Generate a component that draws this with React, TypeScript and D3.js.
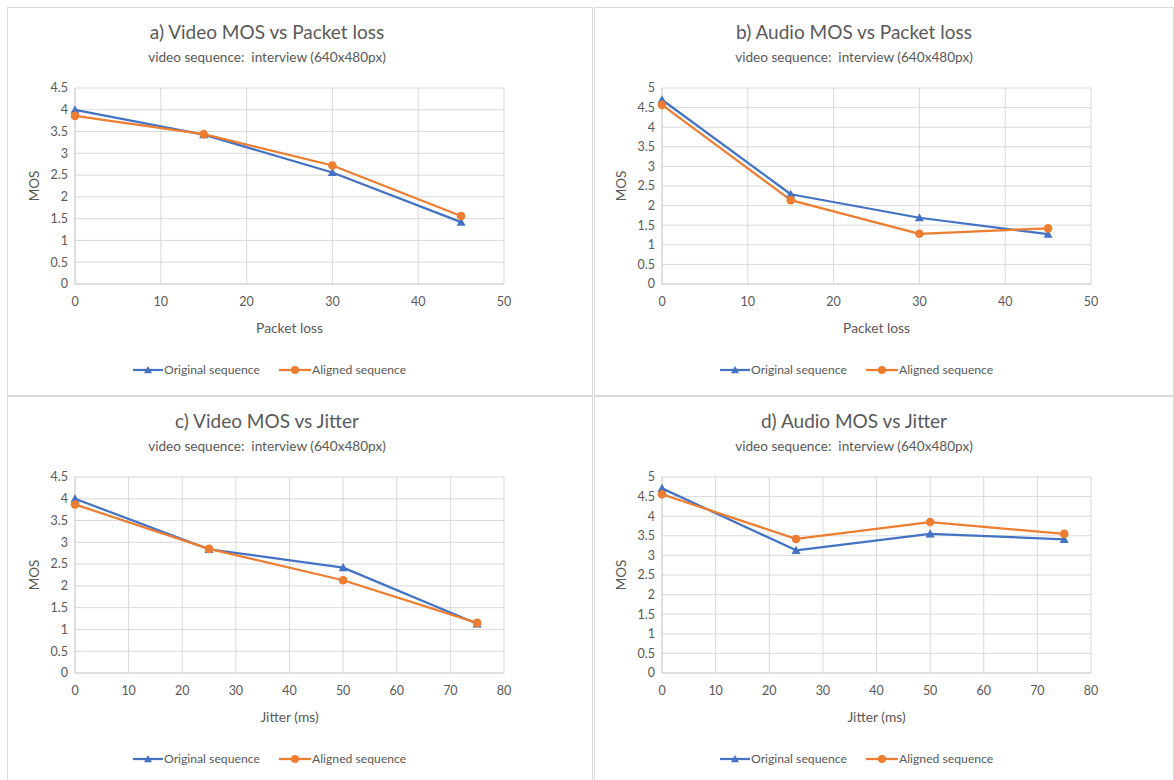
import * as React from 'react';
import * as d3 from 'd3';

// x values
const packetLoss = [0, 15, 30, 45];
const jitter = [0, 25, 50, 75];

// a) video MOS vs packet loss
const videoPlOriginal = [4.0, 3.43, 2.56, 1.42];
const videoPlAligned = [3.86, 3.44, 2.72, 1.56];
// b) audio MOS vs packet loss
const audioPlOriginal = [4.7, 2.29, 1.69, 1.27];
const audioPlAligned = [4.57, 2.14, 1.28, 1.42];
// c) video MOS vs jitter
const videoJOriginal = [4.0, 2.84, 2.42, 1.13];
const videoJAligned = [3.87, 2.85, 2.13, 1.15];
// d) audio MOS vs jitter
const audioJOriginal = [4.71, 3.13, 3.55, 3.41];
const audioJAligned = [4.56, 3.42, 3.85, 3.55];

const yTicks45 = [0, 0.5, 1, 1.5, 2, 2.5, 3, 3.5, 4, 4.5];
const yTicks5 = [0, 0.5, 1, 1.5, 2, 2.5, 3, 3.5, 4, 4.5, 5];
const xTicks50 = [0, 10, 20, 30, 40, 50];
const xTicks80 = [0, 10, 20, 30, 40, 50, 60, 70, 80];

const subtitle = 'video sequence:  interview (640x480px)';
const seriesNames = ['Original sequence', 'Aligned sequence'];

const BLUE = '#4472C4';
const ORANGE = '#ED7D31';
const TEXT = '#595959';
const GRID = '#d9d9d9';
const FONT = "Lato, 'Open Sans', sans-serif";

type PanelProps = {
  ox: number;
  oy: number;
  w: number;
  h: number;
  title: string;
  xTitle: string;
  xs: number[];
  orig: number[];
  aligned: number[];
  xTicks: number[];
  yTicks: number[];
};

function Triangle({ x, y, s }: { x: number; y: number; s: number }) {
  return (
    <path
      d={`M${x},${y - s}L${x + s},${y + s * 0.8}L${x - s},${y + s * 0.8}Z`}
      fill={BLUE}
    />
  );
}

function Panel(p: PanelProps) {
  const left = 68, right = 497, top = 81, bottom = 277;
  const x = d3.scaleLinear()
    .domain([p.xTicks[0], p.xTicks[p.xTicks.length - 1]])
    .range([left, right]);
  const y = d3.scaleLinear()
    .domain([0, p.yTicks[p.yTicks.length - 1]])
    .range([bottom, top]);
  const line = d3.line<number>()
    .x((d, i) => x(p.xs[i]))
    .y((d) => y(d));
  const cx = 260;

  return (
    <g transform={`translate(${p.ox}, ${p.oy})`} fontFamily={FONT}>
      <rect x={0.5} y={0.5} width={p.w} height={p.h} fill="#fff" stroke={GRID} />
      <text x={cx} y={32} textAnchor="middle" fontSize={19} fill={TEXT}>{p.title}</text>
      <text x={cx} y={55} textAnchor="middle" fontSize={13.6} fill={TEXT} style={{ whiteSpace: 'pre' }}>{subtitle}</text>

      {p.yTicks.map((t) => (
        <g key={'y' + t}>
          <line x1={left} x2={right} y1={y(t)} y2={y(t)} stroke={t === 0 ? '#bfbfbf' : GRID} strokeWidth={1} />
          <text x={left - 7} y={y(t)} dy="0.35em" textAnchor="end" fontSize={12.5} fill={TEXT}>{t}</text>
        </g>
      ))}
      {p.xTicks.map((t) => (
        <g key={'x' + t}>
          <line x1={x(t)} x2={x(t)} y1={top} y2={bottom} stroke={t === 0 ? '#bfbfbf' : GRID} strokeWidth={1} />
          <text x={x(t)} y={bottom + 18} dy="0.35em" textAnchor="middle" fontSize={12.5} fill={TEXT}>{t}</text>
        </g>
      ))}

      <text x={(left + right) / 2} y={bottom + 44} dy="0.35em" textAnchor="middle" fontSize={13.8} fill={TEXT}>{p.xTitle}</text>
      <text transform={`translate(27, ${(top + bottom) / 2}) rotate(-90)`} dy="0.35em" textAnchor="middle" fontSize={13.5} fill={TEXT}>MOS</text>

      <path d={line(p.orig) || ''} fill="none" stroke={BLUE} strokeWidth={2.25} strokeLinejoin="round" />
      <path d={line(p.aligned) || ''} fill="none" stroke={ORANGE} strokeWidth={2.25} strokeLinejoin="round" />
      {p.orig.map((v, i) => <Triangle key={'o' + i} x={x(p.xs[i])} y={y(v)} s={4.5} />)}
      {p.aligned.map((v, i) => <circle key={'a' + i} cx={x(p.xs[i])} cy={y(v)} r={4.3} fill={ORANGE} />)}

      <g transform="translate(0, 363)">
        <line x1={126} x2={156} y1={0} y2={0} stroke={BLUE} strokeWidth={2.25} />
        <Triangle x={141} y={0} s={4} />
        <text x={157} y={0} dy="0.35em" fontSize={12.2} fill={TEXT}>{seriesNames[0]}</text>
        <line x1={272} x2={304} y1={0} y2={0} stroke={ORANGE} strokeWidth={2.25} />
        <circle cx={288} cy={0} r={4} fill={ORANGE} />
        <text x={305} y={0} dy="0.35em" fontSize={12.2} fill={TEXT}>{seriesNames[1]}</text>
      </g>
    </g>
  );
}

export default function App() {
  return (
    <svg width={1174} height={780} style={{ position: 'absolute', left: 0, top: 0, background: '#fff' }}>
      <Panel ox={7} oy={7} w={585} h={388} title="a) Video MOS vs Packet loss" xTitle="Packet loss"
        xs={packetLoss} orig={videoPlOriginal} aligned={videoPlAligned} xTicks={xTicks50} yTicks={yTicks45} />
      <Panel ox={594} oy={7} w={579} h={388} title="b) Audio MOS vs Packet loss" xTitle="Packet loss"
        xs={packetLoss} orig={audioPlOriginal} aligned={audioPlAligned} xTicks={xTicks50} yTicks={yTicks5} />
      <Panel ox={7} oy={396} w={585} h={390} title="c) Video MOS vs Jitter" xTitle="Jitter (ms)"
        xs={jitter} orig={videoJOriginal} aligned={videoJAligned} xTicks={xTicks80} yTicks={yTicks45} />
      <Panel ox={594} oy={396} w={579} h={390} title="d) Audio MOS vs Jitter" xTitle="Jitter (ms)"
        xs={jitter} orig={audioJOriginal} aligned={audioJAligned} xTicks={xTicks80} yTicks={yTicks5} />
    </svg>
  );
}
